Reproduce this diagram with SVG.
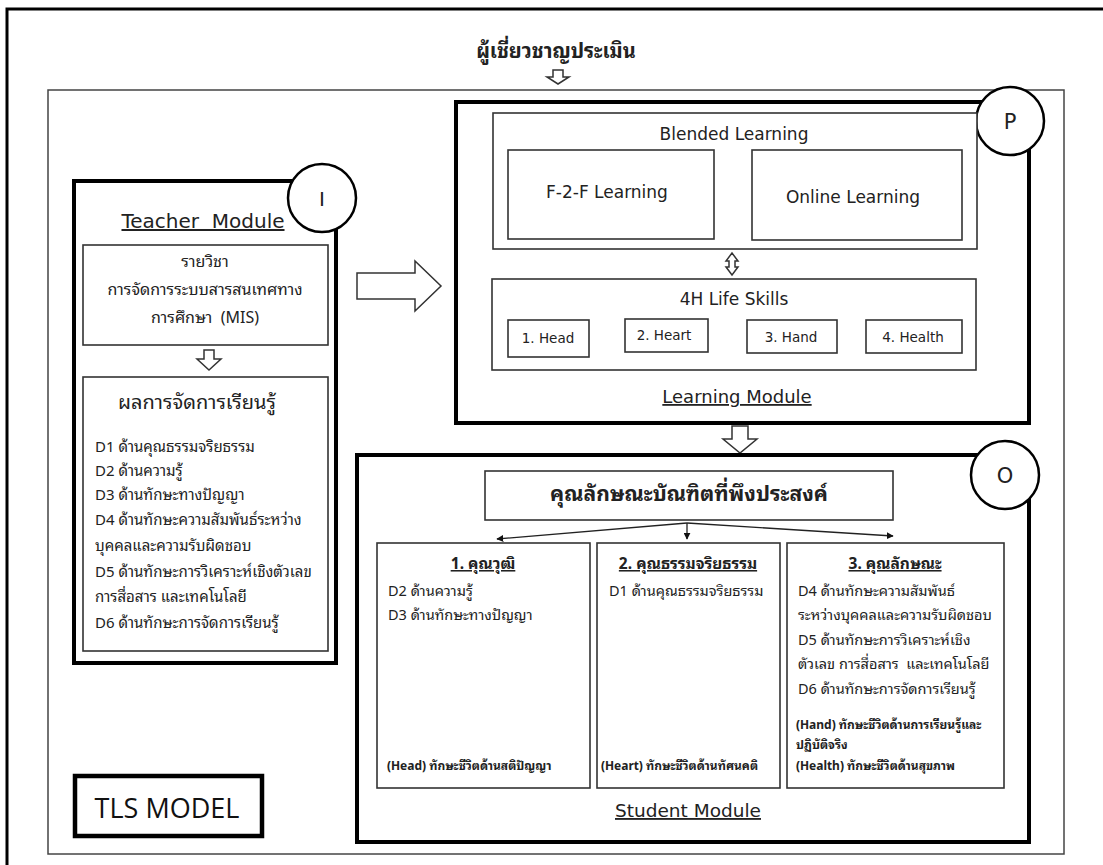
<svg xmlns="http://www.w3.org/2000/svg" width="1103" height="865" viewBox="0 0 1103 865">
<defs>
<style>
.thick{fill:none;stroke:#000;stroke-width:4}
.thin{fill:#fff;stroke:#333;stroke-width:1.6}
.circ{fill:#fff;stroke:#000;stroke-width:2.5}
.hol{fill:#fff;stroke:#333;stroke-width:1.5;stroke-linejoin:miter}
.en{font-family:"DejaVu Sans","Noto Sans",sans-serif;fill:#222}
.th{font-family:"Noto Sans Thai Looped","Noto Sans Thai","Noto Sans","DejaVu Sans",sans-serif;fill:#222}
.u{text-decoration:underline}
.mid{text-anchor:middle}
.con{fill:none;stroke:#222;stroke-width:1.3}
</style>
<marker id="ah" viewBox="0 0 10 10" refX="9" refY="5" markerWidth="7" markerHeight="7" orient="auto-start-reverse" markerUnits="userSpaceOnUse">
<path d="M0,0 L10,5 L0,10 z" fill="#111"/>
</marker>
</defs>
<rect width="1103" height="865" fill="#fff"/>
<rect x="7" y="9" width="1110" height="870" fill="none" stroke="#000" stroke-width="3"/>
<rect x="48" y="90" width="1016" height="764" fill="none" stroke="#444" stroke-width="1.5"/>

<g id="title">
<text class="th mid" x="556" y="58" font-size="20" font-weight="bold">ผู้เชี่ยวชาญประเมิน</text>
</g>

<g id="connectors">
<path class="hol" d="M553,70 H563 V77 H569 L558,84 L547,77 H553 Z"/>
<path class="hol" d="M357,273 H415 V261 L441,286 L415,311 V299 H357 Z"/>
<path class="hol" d="M204,350 H214 V359 H221 L209,370 L197,359 H204 Z"/>
<path class="hol" d="M732,426 H748 V439 H757 L740,453 L723,439 H732 Z"/>
<path class="hol" d="M729,261 H726 L732,253 L738,261 H735 V267 H738 L732,275 L726,267 H729 Z"/>
<line class="con" x1="687" y1="523" x2="497" y2="539" marker-end="url(#ah)"/>
<line class="con" x1="687" y1="523" x2="687" y2="539" marker-end="url(#ah)"/>
<line class="con" x1="687" y1="523" x2="893" y2="536" marker-end="url(#ah)"/>
</g>

<g id="teacher-module">
<rect class="thick" x="74" y="181" width="262" height="482"/>
<circle class="circ" cx="322" cy="198" r="34"/>
<text class="en mid" x="322" y="206" font-size="20">I</text>
<text class="en mid u" x="203" y="228" font-size="20" style="white-space:pre">Teacher  Module</text>
</g>

<g id="course">
<rect class="thin" x="83" y="245" width="245" height="100"/>
<text class="th mid" x="205" y="267" font-size="16">รายวิชา</text>
<text class="th mid" x="205" y="295" font-size="16">การจัดการระบบสารสนเทศทาง</text>
<text class="th mid" x="205" y="323" font-size="16" style="white-space:pre">การศึกษา  (MIS)</text>
</g>

<g id="learning-outcomes">
<rect class="thin" x="83" y="377" width="245" height="274"/>
<text class="th mid" x="197" y="409" font-size="20">ผลการจัดการเรียนรู้</text>
<text class="th" x="95" y="452" font-size="15">D1 ด้านคุณธรรมจริยธรรม</text>
<text class="th" x="95" y="476" font-size="15">D2 ด้านความรู้</text>
<text class="th" x="95" y="500" font-size="15">D3 ด้านทักษะทางปัญญา</text>
<text class="th" x="95" y="525" font-size="15">D4 ด้านทักษะความสัมพันธ์ระหว่าง</text>
<text class="th" x="95" y="551" font-size="15">บุคคลและความรับผิดชอบ</text>
<text class="th" x="95" y="577" font-size="15">D5 ด้านทักษะการวิเคราะห์เชิงตัวเลข</text>
<text class="th" x="95" y="602" font-size="15">การสื่อสาร และเทคโนโลยี</text>
<text class="th" x="95" y="628" font-size="15">D6 ด้านทักษะการจัดการเรียนรู้</text>
</g>

<g id="learning-module">
<rect class="thick" x="456" y="102" width="573" height="321"/>
<circle class="circ" cx="1010" cy="121" r="34"/>
<text class="en mid" x="1010" y="129" font-size="21">P</text>
<text class="en mid u" x="737" y="403" font-size="18">Learning Module</text>
</g>

<g id="blended-learning">
<rect class="thin" x="493" y="113" width="484" height="136"/>
<text class="en mid" x="734" y="140" font-size="17">Blended Learning</text>
</g>
<g id="f2f">
<rect class="thin" x="508" y="150" width="206" height="89"/>
<text class="en mid" x="607" y="198" font-size="17">F-2-F Learning</text>
</g>
<g id="online">
<rect class="thin" x="752" y="150" width="210" height="90"/>
<text class="en mid" x="853" y="203" font-size="17">Online Learning</text>
</g>

<g id="life-skills">
<rect class="thin" x="492" y="279" width="484" height="91"/>
<text class="en mid" x="734" y="305" font-size="17">4H Life Skills</text>
</g>
<g id="head"><rect class="thin" x="508" y="320" width="81" height="37"/><text class="en mid" x="548" y="343" font-size="13.5">1. Head</text></g>
<g id="heart"><rect class="thin" x="625" y="319" width="83" height="33"/><text class="en mid" x="664" y="340" font-size="13.5">2. Heart</text></g>
<g id="hand"><rect class="thin" x="747" y="320" width="90" height="33"/><text class="en mid" x="791" y="342" font-size="13.5">3. Hand</text></g>
<g id="health"><rect class="thin" x="866" y="320" width="96" height="33"/><text class="en mid" x="913" y="342" font-size="13.5">4. Health</text></g>

<g id="student-module">
<rect class="thick" x="357" y="455" width="672" height="387"/>
<circle class="circ" cx="1005" cy="475" r="34"/>
<text class="en mid" x="1005" y="483" font-size="21">O</text>
<text class="en mid u" x="688" y="817" font-size="18.5">Student Module</text>
</g>

<g id="graduate-attributes">
<rect class="thin" x="485" y="471" width="408" height="49"/>
<text class="th mid" x="689" y="501" font-size="21" font-weight="bold">คุณลักษณะบัณฑิตที่พึงประสงค์</text>
</g>

<g id="col-qualification">
<rect class="thin" x="377" y="543" width="213" height="245"/>
<text class="th mid u" x="483" y="569" font-size="15.5" font-weight="bold">1. คุณวุฒิ</text>
<text class="th" x="388" y="596" font-size="14.5">D2 ด้านความรู้</text>
<text class="th" x="388" y="620" font-size="14.5">D3 ด้านทักษะทางปัญญา</text>
<text class="th" x="387" y="770" font-size="12" font-weight="bold">(Head) ทักษะชีวิตด้านสติปัญญา</text>
</g>

<g id="col-ethics">
<rect class="thin" x="597" y="543" width="183" height="245"/>
<text class="th mid u" x="688" y="569" font-size="15.5" font-weight="bold">2. คุณธรรมจริยธรรม</text>
<text class="th" x="609" y="596" font-size="14.5">D1 ด้านคุณธรรมจริยธรรม</text>
<text class="th" x="601" y="770" font-size="12" font-weight="bold">(Heart) ทักษะชีวิตด้านทัศนคติ</text>
</g>

<g id="col-character">
<rect class="thin" x="787" y="543" width="217" height="245"/>
<text class="th mid u" x="895" y="569" font-size="15.5" font-weight="bold">3. คุณลักษณะ</text>
<text class="th" x="798" y="596" font-size="14.5">D4 ด้านทักษะความสัมพันธ์</text>
<text class="th" x="798" y="620" font-size="14.5">ระหว่างบุคคลและความรับผิดชอบ</text>
<text class="th" x="798" y="645" font-size="14.5">D5 ด้านทักษะการวิเคราะห์เชิง</text>
<text class="th" x="798" y="669" font-size="14.5" style="white-space:pre">ตัวเลข การสื่อสาร  และเทคโนโลยี</text>
<text class="th" x="798" y="694" font-size="14.5">D6 ด้านทักษะการจัดการเรียนรู้</text>
<text class="th" x="796" y="729" font-size="12" font-weight="bold">(Hand) ทักษะชีวิตด้านการเรียนรู้และ</text>
<text class="th" x="796" y="749" font-size="12" font-weight="bold">ปฏิบัติจริง</text>
<text class="th" x="796" y="770" font-size="12" font-weight="bold">(Health) ทักษะชีวิตด้านสุขภาพ</text>
</g>

<g id="tls-model">
<rect x="75" y="776" width="187" height="60" fill="none" stroke="#000" stroke-width="4.5"/>
<text x="167" y="818" font-family="'Open Sans','DejaVu Sans',sans-serif" font-size="27" text-anchor="middle" fill="#111">TLS MODEL</text>
</g>
</svg>
